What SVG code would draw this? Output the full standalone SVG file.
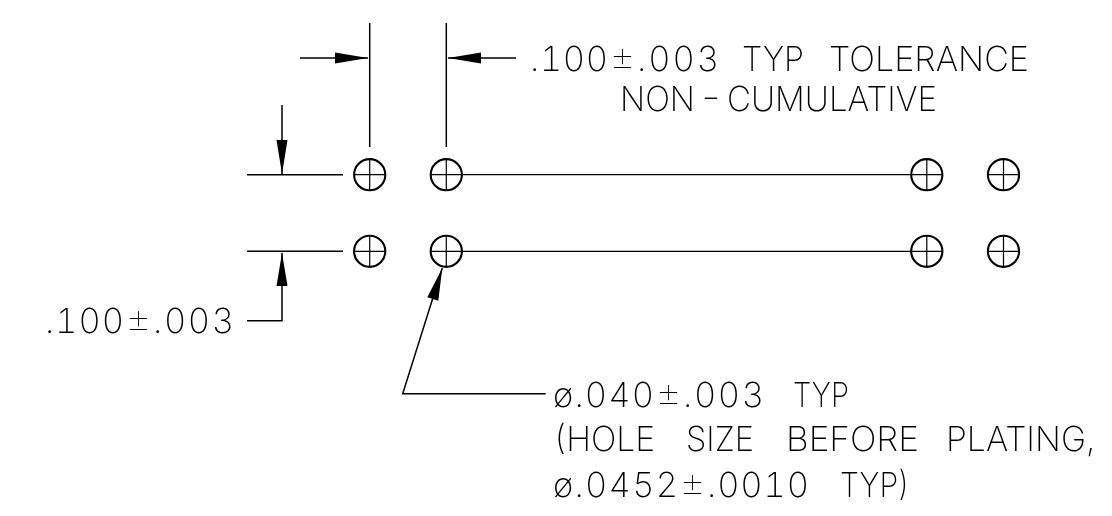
<svg xmlns="http://www.w3.org/2000/svg" width="1112" height="516" viewBox="0 0 1112 516">
<style>
.l{fill:none;stroke:#000;stroke-width:1.5}
.r{fill:none;stroke:#000;stroke-width:1.2}
.h{fill:#fff;stroke:#000;stroke-width:2.1}
.c{fill:none;stroke:#000;stroke-width:1.2}
.a{fill:#000;stroke:none}
#labels{filter:url(#gray)}
text{font-family:"Inter","Lato","Liberation Sans",sans-serif;font-weight:150;font-size:34.500px;fill:#000;white-space:pre;font-variant-numeric:tabular-nums}
.p{font-size:40px;font-weight:120}
</style>
<defs>
<filter id="gray" filterUnits="userSpaceOnUse" x="0" y="0" width="1112" height="516" color-interpolation-filters="sRGB"><feOffset dx="0" dy="0"/></filter>
<g id="hole"><circle class="h" r="15.6"/><path class="c" d="M-15.6 0H15.6M0-15.6V15.6"/></g>
</defs>
<rect width="1112" height="516" fill="#fff"/>
<g id="connectors">
<path class="l" d="M369.7 23V147M446.3 23V147M300 58H368M516 58H448M282 105V174M247 174.7H343M247 251.3H343M282 253V320.7H247M442.3 268L402.700 393.700H545.700"/>
<path class="r" d="M462 174.7H911M462 251.3H911"/>
<path class="a" d="M368 58L335 52.5V63.5ZM448 58L481 52.5V63.5ZM282 174L276.500 140H287.500ZM282 253L276.500 286H287.500ZM442.300 268L427.300 297.300L438.300 300.700Z"/>
</g>
<g id="hole-1"><use href="#hole" x="369.700" y="174.700"/></g>
<g id="hole-2"><use href="#hole" x="446.300" y="174.700"/></g>
<g id="hole-3"><use href="#hole" x="926.800" y="174.700"/></g>
<g id="hole-4"><use href="#hole" x="1003.500" y="174.700"/></g>
<g id="hole-5"><use href="#hole" x="369.700" y="251.300"/></g>
<g id="hole-6"><use href="#hole" x="446.300" y="251.300"/></g>
<g id="hole-7"><use href="#hole" x="926.800" y="251.300"/></g>
<g id="hole-8"><use href="#hole" x="1003.500" y="251.300"/></g>
<g id="labels">
<text x="530" y="70.700" textLength="78">.100</text>
<text class="p" x="609" y="70.700" textLength="27" lengthAdjust="spacingAndGlyphs">±</text>
<text x="637" y="70.700" textLength="82">.003</text>
<text x="742" y="70.700" textLength="62" lengthAdjust="spacingAndGlyphs">TYP</text>
<text x="829" y="70.700" textLength="200" lengthAdjust="spacingAndGlyphs">TOLERANCE</text>
<text x="620" y="111" textLength="75" lengthAdjust="spacingAndGlyphs">NON</text>
<text x="697" y="109" textLength="28" lengthAdjust="spacingAndGlyphs">-</text>
<text x="727" y="111" textLength="210" lengthAdjust="spacingAndGlyphs">CUMULATIVE</text>
<text x="45" y="333" textLength="79">.100</text>
<text class="p" x="125" y="333" textLength="27" lengthAdjust="spacingAndGlyphs">±</text>
<text x="153" y="333" textLength="81">.003</text>
<text x="553" y="406.700" textLength="101">ø.040</text>
<text class="p" x="655" y="406.700" textLength="27" lengthAdjust="spacingAndGlyphs">±</text>
<text x="683" y="406.700" textLength="81">.003</text>
<text x="793" y="406.700" textLength="56" lengthAdjust="spacingAndGlyphs">TYP</text>
<text x="553" y="451" textLength="102" lengthAdjust="spacingAndGlyphs">(HOLE</text>
<text x="686" y="451" textLength="68" lengthAdjust="spacingAndGlyphs">SIZE</text>
<text x="786" y="451" textLength="133" lengthAdjust="spacingAndGlyphs">BEFORE</text>
<text x="946" y="451" textLength="149" lengthAdjust="spacingAndGlyphs">PLATING,</text>
<text x="553" y="496.700" textLength="125">ø.0452</text>
<text class="p" x="679" y="496.700" textLength="27" lengthAdjust="spacingAndGlyphs">±</text>
<text x="707" y="496.700" textLength="102">.0010</text>
<text x="840" y="496.700" textLength="70" lengthAdjust="spacingAndGlyphs">TYP)</text>
</g>
</svg>
